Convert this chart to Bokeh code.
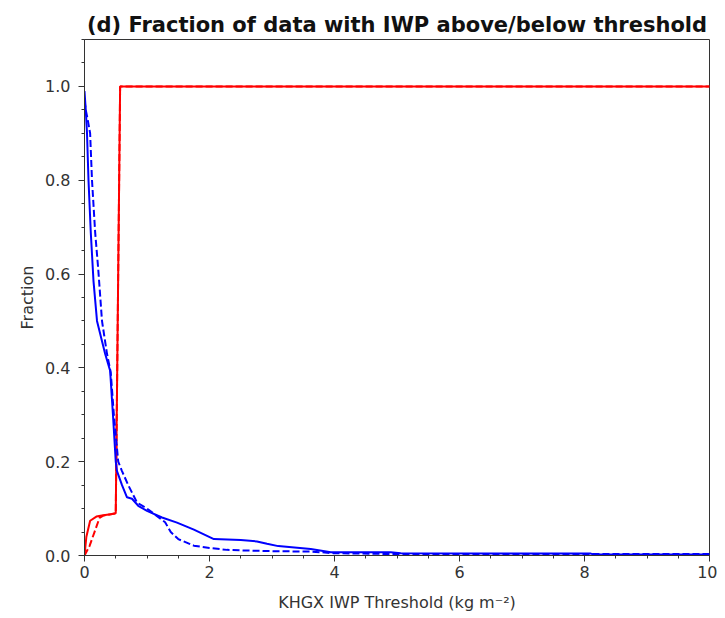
from bokeh.plotting import figure
from bokeh.models import FixedTicker, Range1d
from bokeh.embed import file_html
from bokeh.resources import INLINE

# Red: fraction below threshold
red_solid_x = [0, 0.03, 0.09, 0.19, 0.3, 0.42, 0.5, 0.57, 0.7, 10]
red_solid_y = [0, 0.04, 0.074, 0.083, 0.086, 0.088, 0.09, 1.0, 1.0, 1.0]
red_dash_x = [0, 0.08, 0.16, 0.24, 0.3, 0.42, 0.5, 0.57, 0.7, 10]
red_dash_y = [0, 0.02, 0.05, 0.08, 0.085, 0.088, 0.09, 1.0, 1.0, 1.0]

# Blue: fraction above threshold
blue_solid_x = [0, 0.01, 0.02, 0.04, 0.064, 0.1, 0.144, 0.2, 0.33, 0.41, 0.46, 0.5, 0.52,
                0.6, 0.68, 0.76, 0.86, 1.0, 1.24, 1.48, 1.75, 2.07, 2.5, 2.76, 2.92, 3.1,
                3.62, 3.94, 4.9, 5.06, 8.1, 8.15, 10]
blue_solid_y = [0.99, 0.97, 0.95, 0.9, 0.8, 0.69, 0.585, 0.5, 0.43, 0.394, 0.29, 0.2, 0.18,
                0.15, 0.124, 0.121, 0.106, 0.095, 0.081, 0.07, 0.055, 0.035, 0.033, 0.03, 0.025, 0.02,
                0.014, 0.007, 0.007, 0.005, 0.004, 0.002, 0.002]
blue_dash_x = [0, 0.02, 0.05, 0.09, 0.12, 0.17, 0.22, 0.28, 0.36, 0.42, 0.47, 0.54, 0.6, 0.7,
               0.84, 1.0, 1.15, 1.29, 1.38, 1.5, 1.75, 2.0, 2.28, 2.5, 3.1, 3.62, 3.98, 5.0, 10]
blue_dash_y = [0.97, 0.95, 0.93, 0.9, 0.8, 0.69, 0.61, 0.5, 0.43, 0.39, 0.3, 0.2, 0.18, 0.15,
               0.113, 0.1, 0.085, 0.071, 0.05, 0.035, 0.021, 0.016, 0.012, 0.011, 0.009, 0.0085,
               0.005, 0.003, 0.003]

x_ticks = [0, 2, 4, 6, 8, 10]
y_ticks = [0.0, 0.2, 0.4, 0.6, 0.8, 1.0]

p = figure(width=717, height=618, output_backend="svg", toolbar_location=None,
           x_range=Range1d(0, 10), y_range=Range1d(0, 1.1),
           title="(d) Fraction of data with IWP above/below threshold",
           min_border_left=84, min_border_right=8, min_border_top=39, min_border_bottom=63)

p.title.text_font = "DejaVu Sans"
p.title.text_font_style = "bold"
p.title.text_font_size = "21px"
p.title.align = "center"
p.title.text_color = "#111111"
p.title.standoff = 6

p.line(red_solid_x, red_solid_y, line_color="#ff0000", line_width=2)
p.line(red_dash_x, red_dash_y, line_color="#ff0000", line_width=2, line_dash="7 3")
p.line(blue_solid_x, blue_solid_y, line_color="#0000ff", line_width=2)
p.line(blue_dash_x, blue_dash_y, line_color="#0000ff", line_width=2, line_dash="7 3")

p.xaxis.ticker = FixedTicker(ticks=x_ticks, minor_ticks=[i * 0.5 for i in range(21)])
p.yaxis.ticker = FixedTicker(ticks=y_ticks, minor_ticks=[i * 0.05 for i in range(23)])
p.xaxis.major_label_overrides = {t: str(t) for t in x_ticks}
p.yaxis.major_label_overrides = {t: "%.1f" % t for t in y_ticks}

p.xaxis.axis_label = "KHGX IWP Threshold (kg m\u207b\u00b2)"
p.yaxis.axis_label = "Fraction"
for ax in (p.xaxis[0], p.yaxis[0]):
    ax.axis_label_text_font = "DejaVu Sans"
    ax.axis_label_text_font_style = "normal"
    ax.axis_label_text_font_size = "16px"
    ax.axis_label_text_color = "#333333"
    ax.major_label_text_font = "DejaVu Sans"
    ax.major_label_text_font_size = "16px"
    ax.major_label_text_color = "#333333"
    ax.axis_line_color = "#333333"
    ax.major_tick_line_color = "#333333"
    ax.minor_tick_line_color = "#333333"
    ax.major_tick_out = 6
    ax.major_tick_in = 0
    ax.minor_tick_out = 3
    ax.minor_tick_in = 0
p.yaxis.major_label_standoff = 8
p.xaxis.major_label_standoff = 4
p.xaxis.axis_label_standoff = 12

p.xgrid.visible = False
p.ygrid.visible = False
p.outline_line_color = "#333333"
p.outline_line_width = 1

open("out.html", "w").write(file_html(p, INLINE))
